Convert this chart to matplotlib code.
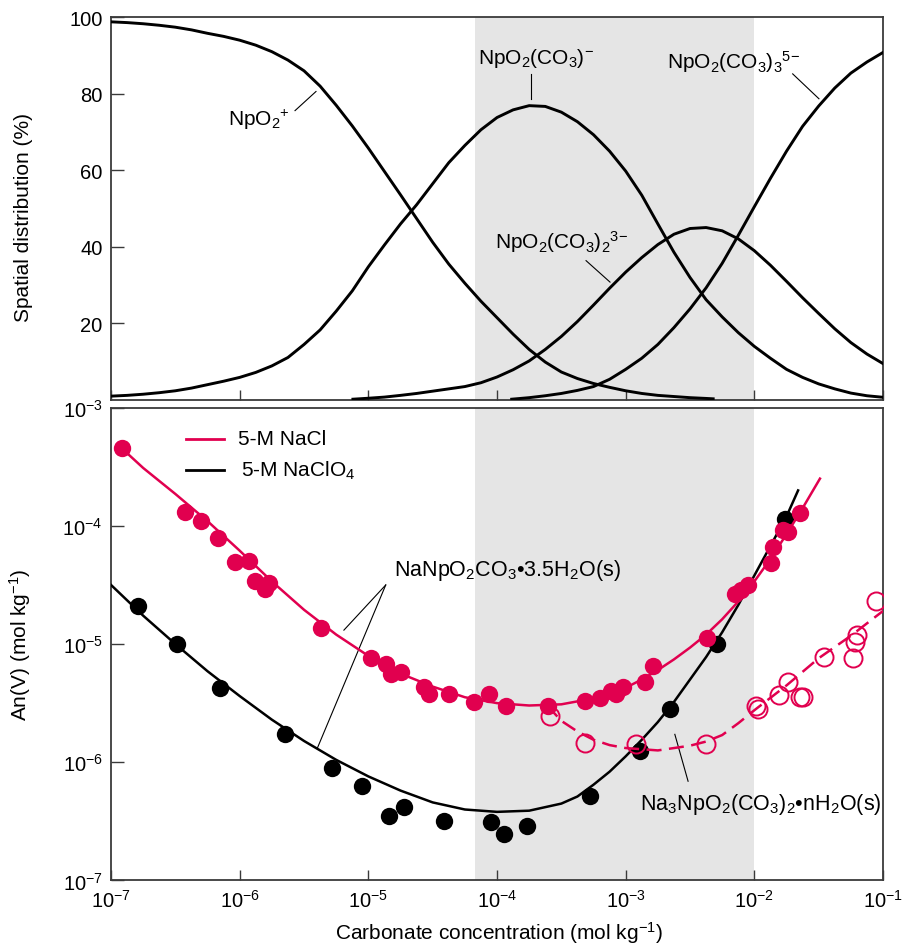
import numpy as np
import matplotlib
matplotlib.use("Agg")
import matplotlib.pyplot as plt
from matplotlib.ticker import FixedLocator, NullLocator, NullFormatter, LogFormatterSciNotation

plt.rcParams['font.family'] = ['Liberation Sans', 'DejaVu Sans']
plt.rcParams['mathtext.fontset'] = 'custom'
plt.rcParams['mathtext.rm'] = 'Liberation Sans'
plt.rcParams['mathtext.it'] = 'Liberation Sans:italic'
plt.rcParams['mathtext.bf'] = 'Liberation Sans:bold'
plt.rcParams['mathtext.default'] = 'regular'

# ---------------- data (log10 of carbonate concentration, mol/kg) ----------------
# Top panel: speciation (%)
npo2_logc = [-7.0, -6.875, -6.75, -6.625, -6.5, -6.375, -6.25, -6.125, -6.0, -5.875, -5.75,
             -5.625, -5.5, -5.375, -5.25, -5.125, -5.0, -4.875, -4.75, -4.625, -4.5, -4.375,
             -4.25, -4.125, -4.0, -3.875, -3.75, -3.625, -3.5, -3.375, -3.25, -3.125, -3.0,
             -2.875, -2.75, -2.625, -2.5, -2.375, -2.32]
npo2_pct = [98.8, 98.6, 98.3, 97.9, 97.4, 96.7, 95.8, 95.0, 94.0, 92.7, 91.0,
            88.8, 86.0, 82.0, 77.0, 71.6, 65.8, 59.7, 53.6, 47.4, 41.2, 35.5,
            30.5, 25.8, 21.5, 17.2, 13.2, 9.9, 7.3, 5.6, 4.3, 3.3, 2.4,
            1.7, 1.2, 0.9, 0.6, 0.4, 0.3]

mono_logc = [-7.0, -6.875, -6.75, -6.625, -6.5, -6.375, -6.25, -6.125, -6.0, -5.875, -5.75,
             -5.625, -5.5, -5.375, -5.25, -5.125, -5.0, -4.875, -4.75, -4.625, -4.5, -4.375,
             -4.25, -4.125, -4.0, -3.875, -3.75, -3.625, -3.5, -3.375, -3.25, -3.125, -3.0,
             -2.875, -2.75, -2.625, -2.5, -2.375, -2.25, -2.125, -2.0, -1.875, -1.75,
             -1.625, -1.5, -1.375, -1.25, -1.125, -1.0]
mono_pct = [1.0, 1.2, 1.5, 1.9, 2.4, 3.1, 4.0, 4.9, 5.9, 7.2, 8.9,
            11.1, 14.5, 18.3, 23.2, 28.5, 34.8, 40.5, 46.0, 51.0, 56.5, 62.0,
            66.5, 70.6, 73.8, 75.8, 76.9, 76.7, 75.2, 72.7, 69.3, 65.0, 59.8,
            53.5, 46.0, 38.6, 32.0, 26.2, 21.7, 17.6, 14.0, 10.9, 8.0,
            5.9, 4.2, 2.9, 1.8, 1.1, 0.7]

di_logc = [-5.12, -5.0, -4.875, -4.75, -4.625, -4.5, -4.375, -4.25, -4.125, -4.0, -3.875,
           -3.75, -3.625, -3.5, -3.375, -3.25, -3.125, -3.0, -2.875, -2.75, -2.625, -2.5,
           -2.375, -2.25, -2.125, -2.0, -1.875, -1.75, -1.625, -1.5, -1.375, -1.25, -1.125, -1.0]
di_pct = [0.2, 0.45, 0.75, 1.2, 1.7, 2.3, 2.9, 3.5, 4.5, 6.0, 7.9,
          10.2, 13.2, 16.6, 20.5, 24.8, 29.2, 33.4, 37.2, 40.6, 43.3, 44.8,
          45.05, 44.2, 42.1, 39.0, 35.2, 31.0, 26.7, 22.6, 18.6, 15.0, 12.0, 9.5]

tri_logc = [-3.886, -3.75, -3.625, -3.5, -3.375, -3.25, -3.125, -3.0, -2.875, -2.75, -2.625,
            -2.5, -2.375, -2.25, -2.125, -2.0, -1.875, -1.75, -1.625, -1.5, -1.375, -1.25,
            -1.125, -1.0]
tri_pct = [0.2, 0.6, 1.1, 1.7, 2.5, 3.5, 5.4, 8.0, 10.9, 14.5, 18.9,
           23.8, 29.3, 35.7, 43.0, 50.5, 57.9, 65.0, 71.5, 76.8, 81.5, 85.4,
           88.3, 90.8]

# Bottom panel: solubility, 5-M NaCl (filled red)
nacl_logc = [-6.917, -6.423, -6.301, -6.169, -6.034, -5.930, -5.878, -5.800, -5.774, -5.370,
             -4.979, -4.865, -4.826, -4.748, -4.566, -4.527, -4.371, -4.177, -4.060, -3.930,
             -3.605, -3.320, -3.203, -3.112, -3.073, -3.020, -2.852, -2.787, -2.371, -2.150,
             -2.100, -2.052, -1.870, -1.852, -1.774, -1.735, -1.644]
nacl_logy = [-3.338, -3.885, -3.956, -4.103, -4.308, -4.295, -4.464, -4.534, -4.483, -4.862,
             -5.118, -5.169, -5.254, -5.239, -5.366, -5.423, -5.423, -5.493, -5.423, -5.527,
             -5.522, -5.479, -5.459, -5.395, -5.423, -5.366, -5.324, -5.183, -4.951, -4.576,
             -4.540, -4.500, -4.314, -4.181, -4.032, -4.054, -3.891]

# 5-M NaClO4 (filled black)
naclo4_logc = [-6.792, -6.488, -6.156, -5.650, -5.286, -5.046, -4.839, -4.722, -4.410, -4.047,
               -3.948, -3.768, -3.275, -2.891, -2.657, -2.293, -1.760]
naclo4_logy = [-4.676, -5.000, -5.376, -5.765, -6.050, -6.197, -6.452, -6.381, -6.495, -6.503,
               -6.607, -6.537, -6.283, -5.902, -5.550, -5.000, -3.942]

# Na3NpO2(CO3)2 phase in NaCl (open red)
na3_logc = [-3.592, -3.314, -2.917, -2.376, -1.985, -1.969, -1.808, -1.735, -1.644, -1.618,
            -1.455, -1.234, -1.216, -1.202, -1.054]
na3_logy = [-5.611, -5.837, -5.846, -5.846, -5.522, -5.549, -5.431, -5.318, -5.450, -5.450,
            -5.112, -5.121, -4.980, -4.923, -4.633]

# fitted curves
fit_nacl_logc = [-6.92, -6.75, -6.5, -6.25, -6.0, -5.75, -5.5, -5.25, -5.0, -4.75, -4.5, -4.25,
                 -4.0, -3.75, -3.5, -3.25, -3.0, -2.875, -2.75, -2.625, -2.5, -2.375, -2.25,
                 -2.125, -2.0, -1.875, -1.75, -1.625, -1.49]
fit_nacl_logy = [-3.34, -3.51, -3.73, -3.96, -4.21, -4.47, -4.71, -4.92, -5.10, -5.25, -5.36, -5.45,
                 -5.50, -5.52, -5.51, -5.46, -5.37, -5.30, -5.22, -5.13, -5.03, -4.92, -4.79,
                 -4.64, -4.47, -4.28, -4.07, -3.85, -3.60]

fit_naclo4_logc = [-7.0, -6.75, -6.5, -6.25, -6.0, -5.75, -5.5, -5.25, -5.0, -4.75, -4.5, -4.25,
                   -4.0, -3.75, -3.5, -3.375, -3.25, -3.125, -3.0, -2.875, -2.75, -2.625, -2.5,
                   -2.375, -2.25, -2.125, -2.0, -1.875, -1.75, -1.66]
fit_naclo4_logy = [-4.50, -4.76, -5.00, -5.23, -5.44, -5.64, -5.82, -5.98, -6.12, -6.24, -6.34, -6.40,
                   -6.42, -6.41, -6.35, -6.29, -6.19, -6.08, -5.95, -5.81, -5.66, -5.49, -5.30,
                   -5.11, -4.90, -4.67, -4.42, -4.17, -3.92, -3.70]

fit_na3_logc = [-3.61, -3.5, -3.375, -3.25, -3.125, -3.0, -2.75, -2.5, -2.375, -2.25, -2.125,
                -2.0, -1.75, -1.5, -1.25, -1.0]
fit_na3_logy = [-5.52, -5.65, -5.74, -5.81, -5.855, -5.88, -5.90, -5.86, -5.825, -5.77, -5.67,
                -5.56, -5.35, -5.12, -4.93, -4.72]

shade_lo, shade_hi = 6.75e-5, 1e-2
xticks = [1e-7, 1e-6, 1e-5, 1e-4, 1e-3, 1e-2, 1e-1]
top_yticks = [20, 40, 60, 80, 100]
bot_yticks = [1e-7, 1e-6, 1e-5, 1e-4, 1e-3]

RED = '#E1004F'
SPINE = '#3a3a3a'
FS_TICK = 14.5
FS_LAB = 15
FS_ANN = 15.5

def p10(a):
    return np.power(10.0, np.array(a, dtype=float))

fig = plt.figure(figsize=(9.05, 9.45), dpi=100)
ax1 = fig.add_axes([0.1227, 0.5757, 0.853, 0.405])
ax2 = fig.add_axes([0.1227, 0.0673, 0.853, 0.5002])

for ax in (ax1, ax2):
    ax.set_xscale('log')
    ax.set_xlim(1e-7, 1e-1)
    ax.axvspan(shade_lo, shade_hi, color='#e5e5e5', lw=0, zorder=0)
    for s in ax.spines.values():
        s.set_color(SPINE)
        s.set_linewidth(1.3)
    ax.xaxis.set_major_locator(FixedLocator(xticks))
    ax.xaxis.set_minor_locator(NullLocator())
    ax.tick_params(axis='x', which='major', direction='in', length=7, width=1.0,
                   color=SPINE, top=False, labelsize=FS_TICK, pad=6)
    ax.tick_params(axis='y', which='major', direction='in', length=9, width=1.0,
                   color=SPINE, right=False, labelsize=FS_TICK, pad=6)

# ---------------- top panel ----------------
lw_top = 2.1
ax1.plot(p10(npo2_logc), npo2_pct, color='black', lw=lw_top, zorder=3)
ax1.plot(p10(mono_logc), mono_pct, color='black', lw=lw_top, zorder=3)
ax1.plot(p10(di_logc), di_pct, color='black', lw=lw_top, zorder=3)
ax1.plot(p10(tri_logc), tri_pct, color='black', lw=lw_top, zorder=3)
ax1.set_ylim(0, 100)
ax1.yaxis.set_major_locator(FixedLocator(top_yticks))
ax1.xaxis.set_major_formatter(NullFormatter())
ax1.set_ylabel('Spatial distribution (%)', fontsize=FS_LAB)
ax1.yaxis.set_label_coords(-0.101, 0.479)

ax1.text(10**-6.09, 73.4, 'NpO$_2$$^{+}$', fontsize=FS_LAB, ha='left', va='center')
ax1.plot([10**-5.570, 10**-5.407], [75.6, 80.6], color='black', lw=0.8)
ax1.text(10**-4.148, 89.6, 'NpO$_2$(CO$_3$)$^{-}$', fontsize=FS_LAB, ha='left', va='center')
ax1.plot([10**-3.736, 10**-3.736], [85.2, 78.7], color='black', lw=0.8)
ax1.text(10**-2.681, 88.6, 'NpO$_2$(CO$_3$)$_3$$^{5{-}}$', fontsize=FS_LAB, ha='left', va='center')
ax1.plot([10**-1.702, 10**-1.498], [85.2, 78.7], color='black', lw=0.8)
ax1.text(10**-4.016, 41.5, 'NpO$_2$(CO$_3$)$_2$$^{3{-}}$', fontsize=FS_LAB, ha='left', va='center')
ax1.plot([10**-3.308, 10**-3.122], [36.4, 30.8], color='black', lw=0.8)

# ---------------- bottom panel ----------------
ax2.set_yscale('log')
ax2.set_ylim(1e-7, 1e-3)
ax2.yaxis.set_major_locator(FixedLocator(bot_yticks))
ax2.yaxis.set_minor_locator(NullLocator())
ax2.xaxis.set_major_formatter(LogFormatterSciNotation())
ax2.yaxis.set_major_formatter(LogFormatterSciNotation())

lw_bot = 1.8
ax2.plot(p10(fit_naclo4_logc), p10(fit_naclo4_logy), color='black', lw=lw_bot, zorder=3)
ax2.plot(p10(naclo4_logc), p10(naclo4_logy), 'o', ms=12.5, color='black', mec='none', zorder=4)
ax2.plot(p10(fit_nacl_logc), p10(fit_nacl_logy), color=RED, lw=lw_bot, zorder=5)
ax2.plot(p10(nacl_logc), p10(nacl_logy), 'o', ms=12.5, color=RED, mec='none', zorder=6)
ax2.plot(p10(fit_na3_logc), p10(fit_na3_logy), color=RED, lw=lw_bot, dashes=(6, 3), zorder=5)
ax2.plot(p10(na3_logc), p10(na3_logy), 'o', ms=13, mfc='none', mec=RED, mew=1.4, zorder=6)

ax2.set_xlabel('Carbonate concentration (mol kg$^{-1}$)', fontsize=FS_LAB)
ax2.xaxis.set_label_coords(0.503, -0.082)
ax2.set_ylabel('An(V) (mol kg$^{-1}$)', fontsize=FS_LAB)
ax2.yaxis.set_label_coords(-0.101, 0.5)

# legend (manual)
ax2.plot([0.0972, 0.1464], [0.9339, 0.9339], transform=ax2.transAxes, color=RED, lw=2.0)
ax2.text(0.1649, 0.9339, '5-M NaCl', transform=ax2.transAxes, fontsize=FS_LAB, ha='left', va='center')
ax2.plot([0.0972, 0.1464], [0.8689, 0.8689], transform=ax2.transAxes, color='black', lw=2.0)
ax2.text(0.168, 0.8689, '5-M NaClO$_4$', transform=ax2.transAxes, fontsize=FS_LAB, ha='left', va='center')

# annotations
ax2.text(10**-4.798, 10**-4.413, 'NaNpO$_2$CO$_3$\u20223.5H$_2$O(s)', fontsize=FS_ANN,
         ha='left', va='baseline')
ax2.plot([10**-4.865, 10**-5.19], [10**-4.500, 10**-4.882], color='black', lw=0.8)
ax2.plot([10**-4.865, 10**-5.397], [10**-4.500, 10**-5.882], color='black', lw=0.8)
ax2.text(10**-2.891, 10**-6.396, 'Na$_3$NpO$_2$(CO$_3$)$_2$\u2022nH$_2$O(s)', fontsize=FS_ANN,
         ha='left', va='baseline')
ax2.plot([10**-2.618, 10**-2.515], [10**-5.764, 10**-6.161], color='black', lw=0.8)

fig.savefig('out.png', dpi=100)
